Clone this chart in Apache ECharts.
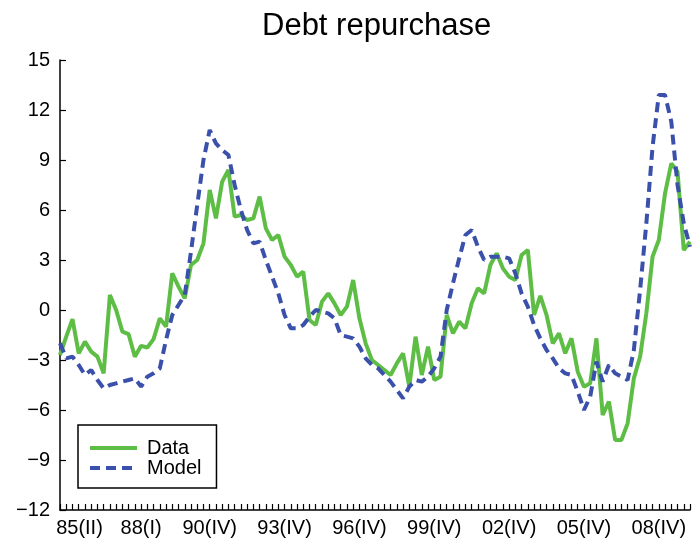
<!DOCTYPE html>
<html>
<head>
<meta charset="utf-8">
<title>Debt repurchase</title>
<script src="https://cdn.jsdelivr.net/npm/echarts@6/dist/echarts.min.js"></script>
<style>
	html, body { margin: 0; padding: 0; background: #fff; }
	#chart { width: 697px; height: 552px; }
</style>
</head>
<body>
<div id="chart"></div>
<script>
// 季度类别: 1984(IV) 到 2010(I)
var startYear = 1984;
var startQuarter = 4;
var quarterCount = 102;
var roman = ['I', 'II', 'III', 'IV'];
var categories = [];
for (var i = 0; i < quarterCount; i++) {
	var q = startQuarter - 1 + i;
	var y = startYear + Math.floor(q / 4);
	categories.push(String(y % 100).padStart(2, '0') + '(' + roman[q % 4] + ')');
}

// x轴上显示的标签
var tickLabels = ['85(II)', '88(I)', '90(IV)', '93(IV)', '96(IV)', '99(IV)', '02(IV)', '05(IV)', '08(IV)'];

// y轴刻度
var yMin = -12;
var yMax = 15;
var yStep = 3;

// Data (实线)
var dataValues = [
	-2.7, -1.6, -0.55, -2.6, -1.9, -2.5, -2.8, -3.8, 0.9, 0.0,
	-1.3, -1.45, -2.8, -2.15, -2.25, -1.75, -0.5, -1.0, 2.2, 1.4,
	0.7, 2.7, 3.0, 4.0, 7.2, 5.5, 7.7, 8.4, 5.6, 5.7,
	5.4, 5.5, 6.8, 4.9, 4.2, 4.5, 3.2, 2.7, 2.0, 2.3,
	-0.6, -0.9, 0.5, 1.0, 0.4, -0.3, 0.2, 1.8, -0.5, -2.0,
	-3.0, -3.3, -3.6, -3.9, -3.2, -2.6, -4.6, -1.6, -3.9, -2.2,
	-4.2, -4.0, -0.3, -1.4, -0.7, -1.1, 0.4, 1.3, 1.0, 2.7,
	3.4, 2.5, 2.0, 1.8, 3.3, 3.6, -0.3, 0.85, -0.3, -2.0,
	-1.4, -2.6, -1.7, -3.7, -4.6, -4.4, -1.7, -6.3, -5.5, -7.8,
	-7.8, -6.8, -4.1, -2.8, -0.2, 3.2, 4.2, 7.0, 8.8, 8.3,
	3.6, 4.1
];

// Model (虚线)
var modelValues = [
	-2.0, -2.9, -2.8, -3.3, -3.9, -3.6, -4.2, -4.7, -4.5, -4.4,
	-4.3, -4.2, -4.1, -4.6, -4.0, -3.8, -3.5, -1.8, -0.3, 0.3,
	0.9, 3.5, 6.3, 9.0, 10.8, 10.0, 9.6, 9.3, 7.5, 6.0,
	4.8, 4.0, 4.1, 3.0, 2.0, 1.0, -0.3, -1.1, -1.1, -0.9,
	-0.4, 0.0, -0.1, -0.2, -0.5, -1.5, -1.6, -1.7, -2.2, -2.9,
	-3.3, -3.5, -3.9, -4.3, -4.8, -5.3, -4.6, -4.2, -4.3, -4.0,
	-3.5, -2.8, 0.0, 1.6, 3.1, 4.5, 4.8, 3.8, 3.0, 3.2,
	3.2, 3.2, 3.1, 2.2, 1.0, 0.2, -0.9, -1.7, -2.4, -2.9,
	-3.5, -3.8, -3.9, -4.9, -6.0, -5.2, -3.1, -4.3, -3.3, -3.8,
	-4.0, -4.2, -2.4, 1.2, 5.2, 9.8, 12.9, 12.9, 11.3, 7.5,
	5.2, 3.8
];

var font = 'Liberation Sans, Arial, Helvetica, sans-serif';
var green = '#5dbd45';
var blue = '#3a50aa';

var myChart = echarts.init(document.getElementById('chart'), null, { renderer: 'canvas' });

var option = {
	backgroundColor: '#fff',
	animation: false,
	title: {
		text: 'Debt repurchase',
		left: 257,
		top: 6,
		textStyle: {
			fontFamily: font,
			fontSize: 31,
			fontWeight: 'normal',
			color: '#000'
		}
	},
	legend: {
		data: ['Data', 'Model'],
		orient: 'vertical',
		left: 78,
		top: 425,
		padding: [13, 15, 10, 10],
		itemGap: 0,
		itemWidth: 47,
		itemHeight: 14,
		borderColor: '#000',
		borderWidth: 1.5,
		// 图例里不画圆点
		itemStyle: { opacity: 0, borderWidth: 0 },
		lineStyle: { width: 4 },
		textStyle: {
			fontFamily: font,
			fontSize: 20,
			lineHeight: 18,
			color: '#000',
			padding: [0, 0, 0, 5]
		}
	},
	grid: {
		left: 60,
		right: 7,
		top: 60,
		bottom: 42,
		containLabel: false
	},
	xAxis: {
		type: 'category',
		data: categories,
		boundaryGap: false,
		axisLine: { onZero: false, lineStyle: { color: '#000', width: 1.5 } },
		axisTick: {
			inside: true,
			length: 6,
			interval: 0,
			lineStyle: { color: '#000', width: 1.2 }
		},
		axisLabel: {
			interval: function(index, value) {
				return tickLabels.indexOf(value) >= 0;
			},
			formatter: function(value) {
				// 第一个标签在原图里略微右移
				if (value === tickLabels[0]) {
					return '{s|' + value + '}';
				}
				return value;
			},
			rich: {
				s: { fontFamily: font, fontSize: 20, color: '#000', padding: [0, 0, 0, 14] }
			},
			fontFamily: font,
			fontSize: 20,
			color: '#000',
			margin: 8
		},
		splitLine: { show: false }
	},
	yAxis: {
		type: 'value',
		min: yMin,
		max: yMax,
		interval: yStep,
		axisLine: { show: true, lineStyle: { color: '#000', width: 1.5 } },
		axisTick: {
			show: true,
			inside: true,
			length: 6,
			lineStyle: { color: '#000', width: 1.2 }
		},
		axisLabel: {
			formatter: function(v) {
				return v < 0 ? '\u2212' + Math.abs(v) : String(v);
			},
			fontFamily: font,
			fontSize: 20,
			color: '#000',
			margin: 10
		},
		splitLine: { show: false }
	},
	series: [{
		name: 'Data',
		type: 'line',
		data: dataValues,
		symbol: 'none',
		lineStyle: { color: green, width: 4 },
		itemStyle: { color: green },
		z: 3
	}, {
		name: 'Model',
		type: 'line',
		data: modelValues,
		symbol: 'none',
		lineStyle: { color: blue, width: 4, type: [10, 6] },
		itemStyle: { color: blue },
		z: 4
	}]
};

myChart.setOption(option);
</script>
</body>
</html>
